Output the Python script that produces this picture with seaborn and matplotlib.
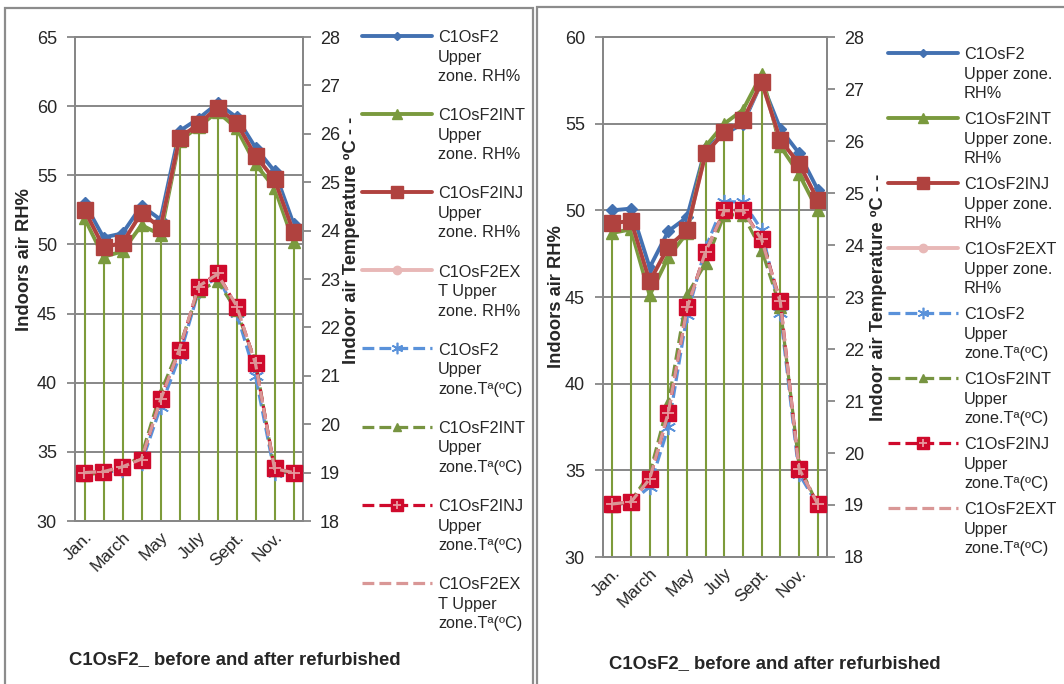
import numpy as np
import matplotlib
matplotlib.use("Agg")
import matplotlib.pyplot as plt
from matplotlib.patches import Rectangle
import seaborn as sns

# ---- data -------------------------------------------------------------
months = ["Jan.", "Feb.", "March", "April", "May", "June",
          "July", "Aug.", "Sept.", "Oct.", "Nov.", "Dec."]
shown_months = ["Jan.", "March", "May", "July", "Sept.", "Nov."]

# Panel A : relative humidity (%)
rh_base_a = [53.0, 50.5, 50.8, 52.8, 51.8, 58.2, 59.1, 60.2, 59.2, 57.0, 55.3, 51.5]
rh_int_a = [51.9, 49.1, 49.5, 51.4, 50.7, 57.5, 58.5, 59.6, 58.4, 55.8, 54.1, 50.2]
rh_inj_a = [52.5, 49.8, 50.1, 52.3, 51.2, 57.7, 58.7, 59.9, 58.8, 56.4, 54.7, 50.9]
rh_ext_a = [52.5, 49.8, 50.1, 52.3, 51.2, 57.7, 58.7, 59.9, 58.8, 56.4, 54.7, 50.9]
# Panel A : air temperature (degC)
t_base_a = [19.0, 19.0, 19.05, 19.2, 20.35, 21.4, 22.75, 23.05, 22.3, 21.0, 19.0, 19.0]
t_int_a = [18.95, 19.0, 19.1, 19.35, 20.65, 21.6, 22.75, 22.95, 22.35, 21.3, 19.05, 18.98]
t_inj_a = [19.0, 19.02, 19.12, 19.26, 20.53, 21.53, 22.84, 23.12, 22.43, 21.26, 19.09, 19.0]
t_ext_a = [19.0, 19.02, 19.12, 19.28, 20.5, 21.55, 22.85, 23.1, 22.45, 21.25, 19.08, 19.0]

# Panel B : relative humidity (%)
rh_base_b = [50.0, 50.1, 46.7, 48.8, 49.6, 53.6, 54.4, 55.0, 57.4, 54.7, 53.3, 51.2]
rh_int_b = [48.7, 48.9, 45.1, 47.3, 48.7, 53.7, 55.0, 55.8, 57.85, 53.7, 52.1, 50.0]
rh_inj_b = [49.25, 49.4, 45.9, 47.9, 48.85, 53.3, 54.5, 55.2, 57.4, 54.05, 52.7, 50.6]
rh_ext_b = [49.25, 49.4, 45.9, 47.9, 48.85, 53.3, 54.5, 55.2, 57.4, 54.05, 52.7, 50.6]
# Panel B : air temperature (degC)
t_base_b = [19.0, 19.05, 19.35, 20.5, 22.65, 23.95, 24.83, 24.83, 24.29, 22.7, 19.6, 19.0]
t_int_b = [18.98, 19.08, 19.6, 20.96, 23.04, 23.65, 24.58, 24.58, 23.9, 22.8, 19.77, 19.0]
t_inj_b = [19.02, 19.06, 19.5, 20.76, 22.8, 23.87, 24.67, 24.67, 24.11, 22.92, 19.7, 19.02]
t_ext_b = [19.02, 19.06, 19.5, 20.78, 22.78, 23.88, 24.66, 24.66, 24.1, 22.9, 19.7, 19.02]

labels_a = ["C1OsF2\nUpper\nzone. RH%", "C1OsF2INT\nUpper\nzone. RH%",
            "C1OsF2INJ\nUpper\nzone. RH%", "C1OsF2EX\nT Upper\nzone. RH%",
            "C1OsF2\nUpper\nzone.Tª(ºC)", "C1OsF2INT\nUpper\nzone.Tª(ºC)",
            "C1OsF2INJ\nUpper\nzone.Tª(ºC)", "C1OsF2EX\nT Upper\nzone.Tª(ºC)"]
labels_b = ["C1OsF2\nUpper zone.\nRH%", "C1OsF2INT\nUpper zone.\nRH%",
            "C1OsF2INJ\nUpper zone.\nRH%", "C1OsF2EXT\nUpper zone.\nRH%",
            "C1OsF2\nUpper\nzone.Tª(ºC)", "C1OsF2INT\nUpper\nzone.Tª(ºC)",
            "C1OsF2INJ\nUpper\nzone.Tª(ºC)", "C1OsF2EXT\nUpper\nzone.Tª(ºC)"]

title_text = "C1OsF2_ before and after refurbished"
rh_label = "Indoors air RH%"
t_label = "Indoor air Temperature ºC - -"

# ---- styling ----------------------------------------------------------
sns.set_style("white")
plt.rcParams["font.family"] = ["Liberation Sans", "DejaVu Sans"]

GRAY = "#878787"
BLUE = "#4371B1"
GREEN = "#7A9A3E"
BROWN = "#B0423F"
PINK = "#E8B8B7"
LBLUE = "#5A92DA"
LGREEN = "#779441"
CRIMSON = "#CF0A2C"
LPINK = "#D99796"
DROP = "#7D9B3A"

W, H = 1064, 684
fig = plt.figure(figsize=(W / 100, H / 100), dpi=100)


def fbox(x0, y0, x1, y1):
    """pixel box (top-left origin) -> figure fraction rect"""
    return [x0 / W, 1 - y1 / H, (x1 - x0) / W, (y1 - y0) / H]


# panel frames
for x0, x1, y0 in [(5, 533, 8), (537, 1075, 7)]:
    fig.add_artist(Rectangle((x0 / W, -0.05), (x1 - x0) / W, 1 - y0 / H + 0.05,
                             transform=fig.transFigure, fill=False,
                             edgecolor="#8C8C8C", lw=1.6, zorder=0))

# humidity series: colour, marker, size, z-order (EXT sits beneath INJ)
RH_STYLE = {0: (BLUE, "D", 6, 3.0), 1: (GREEN, "^", 9, 3.2),
            3: (PINK, "o", 8, 3.4), 2: (BROWN, "s", 11, 4.0)}
# temperature series: colour, marker, size, z-order, marker edge width
T_STYLE = [(LBLUE, (6, 2, 0), 11, 2, 1.2),
           (LGREEN, "^", 8, 2.5, 1),
           (CRIMSON, "s", 11, 3, 1),
           (LPINK, None, 0, 4, 1)]


def panel(rect, rh, t, rh_lim, labels, ylab, legend_anchor, labelspacing,
          title_xy):
    x = np.arange(len(months))
    ax = fig.add_axes(rect)
    ax2 = ax.twinx()

    # drop lines from the INT humidity series down to the axis floor
    ax.vlines(x, rh_lim[0], rh[1], color=DROP, lw=1.5, zorder=1)

    rh_lines = {}
    for i in [0, 1, 3, 2]:
        col, mk, ms, z = RH_STYLE[i]
        sns.lineplot(x=x, y=rh[i], ax=ax, color=col, marker=mk, markersize=ms,
                     markeredgecolor=col, markeredgewidth=1, linewidth=2.8,
                     label=labels[i], zorder=z, errorbar=None)
        rh_lines[i] = ax.lines[-1]
    handles = [rh_lines[i] for i in range(4)]

    for i, (col, mk, ms, z, mew) in enumerate(T_STYLE):
        sns.lineplot(x=x, y=t[i], ax=ax2, color=col, marker=mk, markersize=ms,
                     markeredgecolor=col, markeredgewidth=mew, linewidth=2.3,
                     linestyle="--", dashes=(3.2, 1.6), label=labels[4 + i],
                     zorder=z, errorbar=None)
        line = ax2.lines[-1]
        if i == 2:
            # light cross on the INJ squares
            ax2.plot(x, t[i], linestyle="none", marker="+", markersize=8,
                     markeredgewidth=1.3, color="#E89AA0", zorder=3.5)
            handles.append((line, ax2.lines[-1]))
        else:
            handles.append(line)

    for a in (ax, ax2):
        lg = a.get_legend()
        if lg is not None:
            lg.remove()

    # axes, ticks, grid
    ax.set_xlim(-0.5, len(months) - 0.5)
    ax.set_ylim(*rh_lim)
    ax.set_yticks(np.arange(rh_lim[0], rh_lim[1] + 0.1, 5))
    ax2.set_ylim(18, 28)
    ax2.set_yticks(np.arange(18, 28.1, 1))
    ax.set_xticks(x[::2])
    ax.set_xticklabels(shown_months, rotation=45, ha="right", va="top",
                       rotation_mode="anchor", fontsize=12.5)
    ax.tick_params(axis="x", length=0, pad=6)
    ax.tick_params(axis="y", direction="out", length=6, width=1.3, color=GRAY,
                   labelsize=13, pad=7, left=True)
    ax2.tick_params(axis="y", direction="out", length=6, width=1.3, color=GRAY,
                    labelsize=13, pad=6, right=True)
    ax.grid(axis="y", color=GRAY, lw=1.4)
    ax.grid(axis="x", visible=False)
    ax2.grid(False)
    ax.set_axisbelow(True)
    for a in (ax, ax2):
        for s in a.spines.values():
            s.set_color(GRAY)
            s.set_linewidth(1.4)
    ax.set_ylabel(rh_label, fontsize=13.2, fontweight="bold")
    ax2.set_ylabel(t_label, fontsize=13.2, fontweight="bold")
    ax.yaxis.set_label_coords(*ylab[0])
    ax2.yaxis.set_label_coords(*ylab[1])
    ax.set_xlabel("")

    leg = fig.legend(handles, labels, loc="upper left",
                     bbox_to_anchor=legend_anchor, frameon=False, fontsize=11.7,
                     handlelength=4.3, handletextpad=0.37, markerscale=0.75,
                     labelspacing=labelspacing, borderpad=0, borderaxespad=0)
    for txt in leg.get_texts():
        txt.set_linespacing(1.38)
    for col in leg._legend_handle_box.get_children():
        for row in col.get_children():
            row.align = "top"

    fig.text(title_xy[0] / W, 1 - title_xy[1] / H, title_text, ha="center",
             va="center", fontsize=13.3, fontweight="bold")


panel(fbox(75, 37, 303, 521),
      [rh_base_a, rh_int_a, rh_inj_a, rh_ext_a],
      [t_base_a, t_int_a, t_inj_a, t_ext_a],
      (30, 65), labels_a, ((-0.184, 0.54), (1.175, 0.58)),
      (362 / W, 1 - 30 / H), 1.48, (235, 660))

panel(fbox(603, 37, 827, 557),
      [rh_base_b, rh_int_b, rh_inj_b, rh_ext_b],
      [t_base_b, t_int_b, t_inj_b, t_ext_b],
      (30, 60), labels_b, ((-0.17, 0.5), (1.19, 0.5)),
      (888 / W, 1 - 47 / H), 0.67, (775, 664))

fig.savefig("out.png", dpi=100)
